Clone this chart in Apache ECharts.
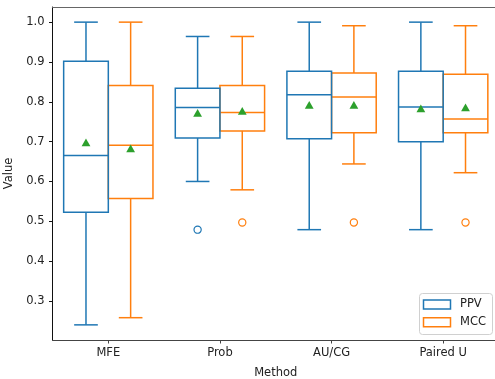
<!DOCTYPE html>
<html>
<head>
<meta charset="utf-8">
<script src="https://cdn.jsdelivr.net/npm/echarts@6/dist/echarts.min.js"></script>
<style>
  html, body { margin: 0; padding: 0; background: #fff; }
  #chart { width: 495px; height: 379px; }
</style>
</head>
<body>
<div id="chart"></div>
<script>
// Methods on the x axis
const methods = ['MFE', 'Prob', 'AU/CG', 'Paired U'];
const seriesNames = ['PPV', 'MCC'];

// Box statistics per method: [lower whisker, Q1, median, Q3, upper whisker]
const ppvBoxes = [
  [0.240, 0.523, 0.665, 0.902, 1.000],
  [0.600, 0.709, 0.786, 0.834, 0.964],
  [0.479, 0.707, 0.818, 0.877, 1.000],
  [0.479, 0.700, 0.787, 0.877, 1.000]
];
const mccBoxes = [
  [0.258, 0.557, 0.691, 0.841, 1.000],
  [0.579, 0.727, 0.773, 0.841, 0.964],
  [0.644, 0.722, 0.812, 0.872, 0.991],
  [0.622, 0.722, 0.757, 0.869, 0.991]
];

// Means (green triangles)
const ppvMeans = [0.698, 0.772, 0.792, 0.783];
const mccMeans = [0.683, 0.777, 0.792, 0.786];

// Outliers: [method index, value]
const ppvOutliers = [[1, 0.479]];
const mccOutliers = [[1, 0.497], [2, 0.497], [3, 0.497]];

// Y tick values
const yTicks = [0.3, 0.4, 0.5, 0.6, 0.7, 0.8, 0.9, 1.0];

const BLUE = '#1f77b4', ORANGE = '#ff7f0e', GREEN = '#2ca02c';
const FONT = 'DejaVu Sans';

function boxRows(boxes, means) {
  return boxes.map((b, i) => [i, b[0], b[1], b[2], b[3], b[4], means[i]]);
}

function boxRenderer(color, shift) {
  return function (params, api) {
    const i = api.value(0);
    const band = api.size([1, 0])[0];
    const cx = api.coord([i, 0.5])[0] + shift * band;
    const half = 0.2 * band;
    const cap = 0.106 * band;
    const y = k => api.coord([i, api.value(k)])[1];
    const yMin = y(1), yQ1 = y(2), yMed = y(3), yQ3 = y(4), yMax = y(5), yMean = y(6);
    const st = { stroke: color, lineWidth: 1.5, fill: null };
    return {
      type: 'group',
      children: [
        { type: 'line', shape: { x1: cx, y1: yQ1, x2: cx, y2: yMin }, style: st },
        { type: 'line', shape: { x1: cx - cap, y1: yMin, x2: cx + cap, y2: yMin }, style: st },
        { type: 'line', shape: { x1: cx, y1: yQ3, x2: cx, y2: yMax }, style: st },
        { type: 'line', shape: { x1: cx - cap, y1: yMax, x2: cx + cap, y2: yMax }, style: st },
        { type: 'rect', shape: { x: cx - half, y: yQ3, width: 2 * half, height: yQ1 - yQ3 }, style: st },
        { type: 'line', shape: { x1: cx - half, y1: yMed, x2: cx + half, y2: yMed }, style: st },
        { type: 'polygon', shape: { points: [[cx, yMean - 4], [cx - 4.4, yMean + 3.8], [cx + 4.4, yMean + 3.8]] },
          style: { fill: GREEN, stroke: null } }
      ]
    };
  };
}

function outlierRenderer(color, shift) {
  return function (params, api) {
    const i = api.value(0);
    const band = api.size([1, 0])[0];
    const p = api.coord([i, api.value(1)]);
    return {
      type: 'circle',
      shape: { cx: p[0] + shift * band, cy: p[1], r: 3.6 },
      style: { stroke: color, lineWidth: 1.2, fill: null }
    };
  };
}

const chart = echarts.init(document.getElementById('chart'), null, { renderer: 'canvas' });

const legendY = [304.5, 322.3];
const legendColors = [BLUE, ORANGE];

chart.setOption({
  animation: false,
  backgroundColor: '#fff',
  grid: { left: 52.5, top: 7, width: 446.5, height: 333, containLabel: false, outerBoundsMode: 'none' },
  xAxis: [
    {
      type: 'category',
      data: methods,
      boundaryGap: true,
      name: 'Method',
      nameLocation: 'middle',
      nameGap: 27,
      nameTextStyle: { fontFamily: FONT, fontSize: 11.5, color: '#222' },
      axisLine: { show: true, lineStyle: { color: '#444', width: 1 } },
      axisTick: { show: true, alignWithLabel: true, length: 3.5, lineStyle: { color: '#444' } },
      axisLabel: { margin: 7, fontFamily: FONT, fontSize: 11.5, color: '#222' },
      splitLine: { show: false }
    },
    {
      type: 'category',
      data: methods,
      position: 'top',
      axisLine: { show: true, lineStyle: { color: '#666', width: 1.2 } },
      axisTick: { show: false },
      axisLabel: { show: false },
      splitLine: { show: false }
    }
  ],
  yAxis: {
    type: 'value',
    min: 0.202,
    max: 1.038,
    name: 'Value',
    nameLocation: 'middle',
    nameGap: 33,
    nameTextStyle: { fontFamily: FONT, fontSize: 11.5, color: '#222' },
    axisLine: { show: true, lineStyle: { color: '#111', width: 1 } },
    axisTick: { show: true, length: 3.5, lineStyle: { color: '#111' }, customValues: yTicks },
    axisLabel: {
      margin: 8, fontFamily: FONT, fontSize: 11.5, color: '#222',
      customValues: yTicks,
      formatter: v => Number(v).toFixed(1)
    },
    splitLine: { show: false }
  },
  series: [
    { name: seriesNames[0], type: 'custom', xAxisIndex: 0, renderItem: boxRenderer(BLUE, -0.2),
      encode: { x: 0, y: [1, 2, 3, 4, 5, 6] }, data: boxRows(ppvBoxes, ppvMeans), z: 3 },
    { name: seriesNames[1], type: 'custom', xAxisIndex: 0, renderItem: boxRenderer(ORANGE, 0.2),
      encode: { x: 0, y: [1, 2, 3, 4, 5, 6] }, data: boxRows(mccBoxes, mccMeans), z: 2 },
    { name: seriesNames[0] + ' outliers', type: 'custom', xAxisIndex: 0, renderItem: outlierRenderer(BLUE, -0.2),
      encode: { x: 0, y: 1 }, data: ppvOutliers },
    { name: seriesNames[1] + ' outliers', type: 'custom', xAxisIndex: 0, renderItem: outlierRenderer(ORANGE, 0.2),
      encode: { x: 0, y: 1 }, data: mccOutliers }
  ],
  graphic: [
    { type: 'rect', shape: { x: 419.5, y: 293.5, width: 73, height: 41, r: 3 },
      style: { fill: 'rgba(255,255,255,0.8)', stroke: '#d0d0d0', lineWidth: 1 }, z: 10 },
    ...seriesNames.flatMap((n, k) => [
      { type: 'rect', shape: { x: 423.5, y: legendY[k] - 4.5, width: 27, height: 9 },
        style: { fill: '#fff', stroke: legendColors[k], lineWidth: 1.5 }, z: 11 },
      { type: 'text', x: 460, y: legendY[k],
        style: { text: n, fontFamily: FONT, fontSize: 11.5, fill: '#222', verticalAlign: 'middle' }, z: 11 }
    ])
  ]
});
</script>
</body>
</html>
